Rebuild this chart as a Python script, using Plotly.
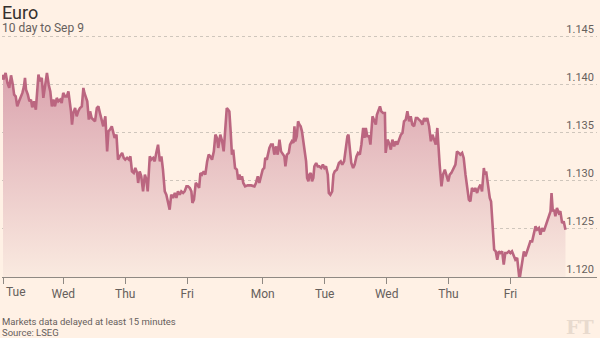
import plotly.graph_objects as go

# ---- data: trading hours since Tuesday 00:00 (weekend removed) and EUR/USD level ----
hours_1 = [0.0, 0.1, 1.0, 1.7, 2.4, 3.1, 3.8, 4.3, 4.9, 5.5,
           6.2, 6.9, 7.5, 8.1, 8.5, 8.9, 9.6, 10.2, 10.8, 11.3,
           12.0, 12.7, 13.2, 13.7, 14.3, 15.0, 15.6, 16.3, 17.0, 17.7,
           18.3, 18.9, 19.5, 20.1, 20.8, 21.4, 22.1, 22.7, 23.3, 24.0,
           24.7, 25.3, 25.9, 26.3, 26.7, 27.2, 27.9, 28.5, 29.1, 29.8,
           30.5, 31.1, 31.5, 32.0, 32.6, 33.2, 33.7, 34.3, 35.0, 35.6,
           36.3, 36.9, 37.5, 38.2, 38.8, 39.6, 40.0, 40.3, 40.8, 41.4,
           42.1, 42.7, 43.2]
eur_1 = [1.14107, 1.14055, 1.14125, 1.14021, 1.13969, 1.14100, 1.14000, 1.13899, 1.13881, 1.13777,
         1.13830, 1.13880, 1.13917, 1.13985, 1.14073, 1.13951, 1.13899, 1.13830, 1.13847, 1.13767,
         1.13830, 1.13743, 1.13933, 1.14107, 1.14038, 1.14073, 1.13865, 1.14000, 1.14125, 1.14000,
         1.13933, 1.13777, 1.13847, 1.13777, 1.13865, 1.13830, 1.13847, 1.13812, 1.13917, 1.13880,
         1.13880, 1.13933, 1.13812, 1.13725, 1.13587, 1.13708, 1.13760, 1.13673, 1.13725, 1.13760,
         1.13777, 1.13969, 1.13917, 1.13865, 1.13830, 1.13639, 1.13725, 1.13656, 1.13639, 1.13621,
         1.13760, 1.13777, 1.13708, 1.13621, 1.13569, 1.13673, 1.13482, 1.13308, 1.13517, 1.13535,
         1.13569, 1.13482, 1.13448]

hours_2 = [43.9, 44.5, 45.2, 46.1, 46.7, 47.3, 48.0, 48.7, 49.3, 49.9,
           50.6, 51.2, 51.9, 52.3, 52.9, 53.5, 54.2, 54.9, 55.5, 56.0,
           56.8, 57.4, 58.1, 58.7, 59.3, 60.0, 60.7, 61.3, 61.9, 62.6,
           63.2, 63.9, 64.5, 65.1, 65.8, 66.5, 67.1, 67.7, 68.4, 69.0,
           69.7, 70.3, 71.0, 71.6, 72.3, 72.9, 73.3, 73.9, 74.6, 75.2,
           75.9, 76.4, 77.0, 77.7, 78.3, 79.0, 79.6, 80.2, 80.9, 81.6,
           82.2, 82.8, 83.3, 84.1, 84.8, 85.4, 86.1, 86.6, 87.1]
eur_2 = [1.13482, 1.13222, 1.13256, 1.13292, 1.13240, 1.13222, 1.13240, 1.13222, 1.13256, 1.13100,
         1.13083, 1.13135, 1.13083, 1.12979, 1.13100, 1.13048, 1.12892, 1.13066, 1.13014, 1.12892,
         1.13256, 1.13222, 1.13240, 1.13204, 1.13292, 1.13378, 1.13204, 1.13256, 1.13118, 1.12892,
         1.12857, 1.12787, 1.12701, 1.12857, 1.12823, 1.12875, 1.12823, 1.12892, 1.12857, 1.12892,
         1.12875, 1.12892, 1.12944, 1.12944, 1.12927, 1.12892, 1.12771, 1.12805, 1.12979, 1.12961,
         1.12927, 1.13083, 1.13066, 1.13100, 1.13066, 1.13204, 1.13274, 1.13256, 1.13222, 1.13308,
         1.13482, 1.13448, 1.13344, 1.13482, 1.13413, 1.13308, 1.13639, 1.13760, 1.13743]

hours_3 = [87.6, 88.1, 88.6, 89.1, 89.8, 90.5, 91.0, 91.5, 92.0, 92.5,
           93.0, 93.7, 94.7, 96.0, 97.3, 97.9, 98.6, 99.2, 99.9, 100.5,
           101.1, 101.5, 102.1, 102.6, 103.1, 103.7, 104.4, 105.0, 105.7, 106.3,
           107.0, 107.6, 108.3, 108.9, 109.3, 109.9, 110.6, 111.1, 111.8, 112.4,
           112.8, 113.1, 113.7, 114.2, 114.7, 115.2, 115.7, 116.2, 116.9, 117.3,
           117.7, 118.2, 118.6, 119.1, 119.6, 120.1, 120.5, 121.2, 121.8, 122.4,
           123.1, 123.8, 124.4, 125.0, 125.7, 126.1, 126.7, 127.4, 127.9, 128.4,
           129.2, 130.0]
eur_3 = [1.13725, 1.13517, 1.13274, 1.13326, 1.13135, 1.13118, 1.13014, 1.13066, 1.13014, 1.13048,
         1.12979, 1.12944, 1.12954, 1.12954, 1.12944, 1.12979, 1.13048, 1.12979, 1.13066, 1.13118,
         1.13135, 1.13240, 1.13222, 1.13292, 1.13344, 1.13378, 1.13378, 1.13274, 1.13360, 1.13274,
         1.13430, 1.13308, 1.13274, 1.13256, 1.13152, 1.13274, 1.13292, 1.13378, 1.13413, 1.13396,
         1.13569, 1.13413, 1.13465, 1.13621, 1.13587, 1.13569, 1.13517, 1.13413, 1.13308, 1.13204,
         1.13031, 1.12996, 1.13066, 1.13083, 1.12996, 1.13031, 1.13152, 1.13187, 1.13152, 1.13152,
         1.13135, 1.13170, 1.13135, 1.13152, 1.13066, 1.12875, 1.12857, 1.12892, 1.13066, 1.13100,
         1.13118, 1.13187]

hours_4 = [130.7, 131.3, 132.0, 132.7, 133.3, 133.7, 134.2, 134.8, 135.5, 136.1,
           136.8, 137.4, 138.1, 138.7, 139.4, 139.9, 140.4, 141.0, 141.7, 142.2,
           143.0, 143.6, 144.3, 144.7, 145.3, 145.9, 146.4, 147.1, 147.8, 148.1,
           148.8, 149.4, 150.1, 150.7, 151.4, 152.0, 152.6, 153.3, 154.0, 154.6,
           155.2, 155.9, 156.5, 157.2, 157.8, 158.4, 159.1, 159.8, 160.4, 161.0,
           161.7, 162.3, 163.0, 163.6, 164.2, 164.9, 165.6, 166.2, 166.8, 167.5,
           168.1, 168.5, 169.0, 169.7, 170.3, 171.0, 171.6, 172.3, 172.9, 173.5]
eur_4 = [1.13204, 1.13170, 1.13204, 1.13326, 1.13465, 1.13482, 1.13360, 1.13187, 1.13135, 1.13170,
         1.13256, 1.13292, 1.13274, 1.13378, 1.13552, 1.13448, 1.13552, 1.13465, 1.13465, 1.13378,
         1.13673, 1.13621, 1.13587, 1.13690, 1.13743, 1.13777, 1.13725, 1.13708, 1.13708, 1.13292,
         1.13430, 1.13396, 1.13326, 1.13430, 1.13360, 1.13413, 1.13378, 1.13430, 1.13482, 1.13500,
         1.13621, 1.13639, 1.13725, 1.13621, 1.13673, 1.13587, 1.13569, 1.13656, 1.13656, 1.13639,
         1.13621, 1.13587, 1.13656, 1.13621, 1.13656, 1.13569, 1.13413, 1.13482, 1.13430, 1.13378,
         1.13552, 1.13344, 1.13170, 1.12944, 1.13066, 1.13118, 1.13066, 1.12996, 1.13066, 1.13083]

hours_5 = [175.1, 175.7, 176.4, 177.0, 177.7, 178.3, 179.0, 179.6, 180.3, 180.9,
           181.5, 182.2, 182.8, 183.5, 184.1, 184.8, 185.4, 186.1, 186.5, 187.0,
           187.5, 188.0, 188.4, 188.9, 189.3, 189.7, 190.1, 190.7, 191.3, 191.9,
           192.5, 193.2, 193.8, 194.4, 195.1, 195.8, 196.4, 197.0, 197.7, 198.3,
           199.0, 199.4, 199.9, 200.3, 200.9, 201.6, 202.2, 202.8, 203.5, 204.1,
           204.8, 205.4, 206.1, 206.7, 207.4, 208.0, 208.6, 209.3, 209.9, 210.6,
           211.2, 211.9, 212.3, 212.8, 213.3, 213.8, 214.4, 215.1, 215.7, 216.4,
           217.0, 217.7]
eur_5 = [1.13170, 1.13308, 1.13292, 1.13274, 1.13292, 1.13240, 1.13066, 1.12961, 1.12805, 1.12787,
         1.12927, 1.12892, 1.12927, 1.12875, 1.12927, 1.12961, 1.12892, 1.13135, 1.13066, 1.13100,
         1.12996, 1.12927, 1.12823, 1.12787, 1.12579, 1.12371, 1.12284, 1.12267, 1.12180, 1.12267,
         1.12250, 1.12267, 1.12130, 1.12250, 1.12250, 1.12267, 1.12250, 1.12267, 1.12215, 1.12180,
         1.12198, 1.12076, 1.11972, 1.12042, 1.12146, 1.12267, 1.12215, 1.12267, 1.12319, 1.12371,
         1.12371, 1.12458, 1.12527, 1.12493, 1.12510, 1.12440, 1.12510, 1.12475, 1.12527, 1.12562,
         1.12632, 1.12683, 1.12875, 1.12683, 1.12701, 1.12632, 1.12718, 1.12666, 1.12684, 1.12562,
         1.12580, 1.12493]

day_ticks = [0.0, 23.3, 47.3, 71.3, 100.5, 124.5, 148.5, 172.4, 196.4]
day_labels = ["Tue", "Wed", "Thu", "Fri", "Mon", "Tue", "Wed", "Thu", "Fri"]
y_ticks = [1.120, 1.125, 1.130, 1.135, 1.140, 1.145]
y_labels = ["1.120", "1.125", "1.130", "1.135", "1.140", "1.145"]

hours = hours_1 + hours_2 + hours_3 + hours_4 + hours_5
eur = eur_1 + eur_2 + eur_3 + eur_4 + eur_5

BG = "#fff1e5"
LINE = "#bb6680"
GREY = "#66605c"
FONT = "Roboto"

fig = go.Figure()
fig.add_trace(go.Scatter(
    x=hours, y=eur, mode="lines",
    line=dict(color=LINE, width=2.6),
    fill="tozeroy",
    fillgradient=dict(type="vertical", start=1.120, stop=1.1415,
                      colorscale=[[0, "rgba(250,234,224,1)"], [1, "rgba(218,163,174,1)"]]),
    hoverinfo="skip", showlegend=False,
))

fig.update_layout(
    width=600, height=338,
    margin=dict(l=2, r=3, t=35, b=61, pad=0),
    paper_bgcolor=BG, plot_bgcolor=BG,
    font=dict(family=FONT, color=GREY),
    xaxis=dict(
        range=[-0.4, 229.9], showgrid=False, zeroline=False,
        showline=True, linecolor="#8f8983", linewidth=1,
        ticks="outside", ticklen=6, tickcolor="#8f8983", tickwidth=1,
        tickvals=day_ticks, ticktext=[""] + day_labels[1:],
        tickfont=dict(family=FONT, size=12, color=GREY),
    ),
    yaxis=dict(
        range=[1.120, 1.1452], side="right",
        tickvals=y_ticks, ticktext=y_labels,
        ticklabelposition="inside top", ticklabeloverflow="allow",
        tickfont=dict(family=FONT, size=11, color=GREY),
        showgrid=True, gridcolor="#cfc6bc", griddash="dot", gridwidth=1,
        zeroline=False, showline=False, ticks="",
    ),
    annotations=[
        dict(text="Euro", xref="paper", yref="paper", x=-0.003, y=1.095,
             xanchor="left", yanchor="middle", showarrow=False,
             font=dict(family=FONT, size=18, color="#33302e")),
        dict(text="10 day to Sep 9", xref="paper", yref="paper", x=-0.003, y=1.029,
             xanchor="left", yanchor="middle", showarrow=False,
             font=dict(family=FONT, size=12, color=GREY)),
        dict(text="Tue", xref="x", yref="paper", x=day_ticks[0], y=-0.064,
             xanchor="left", yanchor="middle", xshift=1, showarrow=False,
             font=dict(family=FONT, size=12, color=GREY)),
        dict(text="Markets data delayed at least 15 minutes", xref="paper", yref="paper",
             x=-0.003, y=-0.185, xanchor="left", yanchor="middle", showarrow=False,
             font=dict(family=FONT, size=9.5, color=GREY)),
        dict(text="Source: LSEG", xref="paper", yref="paper",
             x=-0.003, y=-0.229, xanchor="left", yanchor="middle", showarrow=False,
             font=dict(family=FONT, size=9.5, color=GREY)),
        dict(text="<b>FT</b>", xref="paper", yref="paper",
             x=0.999, y=-0.207, xanchor="right", yanchor="middle", showarrow=False,
             font=dict(family="DejaVu Serif", size=19, color="#e8dace")),
    ],
)

fig.write_html("out.html")
